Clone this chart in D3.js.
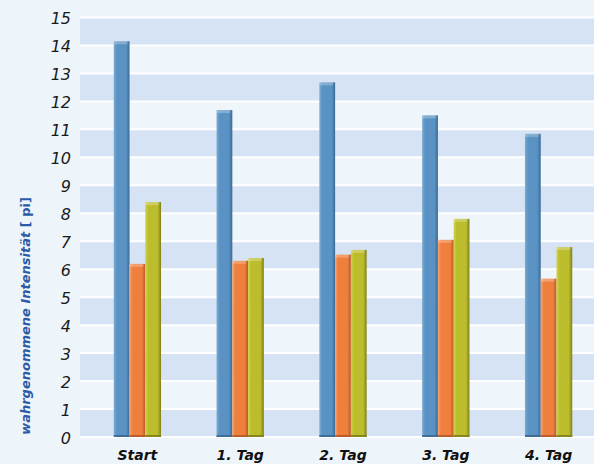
<!DOCTYPE html>
<html>
<head>
<meta charset="utf-8">
<script src="https://cdn.jsdelivr.net/npm/d3@7"></script>
<style>
  html, body { margin: 0; padding: 0; background: #eef5fa; }
  svg { display: block; }
</style>
</head>
<body>
<script>
const WIDTH = 594;
const HEIGHT = 464;

// donnees
const categories = ["Start", "1. Tag", "2. Tag", "3. Tag", "4. Tag"];
const series = ["blau", "orange", "gelb"];
const blau = [14.15, 11.69, 12.68, 11.5, 10.84];
const orange = [6.19, 6.3, 6.52, 7.05, 5.66];
const gelb = [8.4, 6.4, 6.69, 7.8, 6.79];
const yTicks = d3.range(0, 16);

const colors = {
	blau: ["#7aaad3", "#5a93c3", "#3a6a94"],
	orange: ["#f6a170", "#ef7f3d", "#b8582a"],
	gelb: ["#d2d24a", "#bcbd2c", "#7f7f1b"]
};

const svg = d3
	.select("body")
	.append("svg")
	.attr("width", WIDTH)
	.attr("height", HEIGHT);

const plotLeft = 80;
const plotTop = 17.5;
const plotBottom = 437;

const y = d3.scaleLinear().domain([0, 15]).range([plotBottom, plotTop]);
const x0 = d3
	.scaleBand()
	.domain(categories)
	.range([86, 600])
	.paddingInner(0.54)
	.paddingOuter(0.27);
const x1 = d3.scaleBand().domain(series).range([0, x0.bandwidth()]);

// gradients
const defs = svg.append("defs");
series.forEach((s) => {
	const g = defs
		.append("linearGradient")
		.attr("id", "grad-" + s)
		.attr("x1", "0")
		.attr("x2", "1")
		.attr("y1", "0")
		.attr("y2", "0");
	g.append("stop").attr("offset", "0").attr("stop-color", colors[s][0]);
	g.append("stop").attr("offset", "0.2").attr("stop-color", colors[s][1]);
	g.append("stop").attr("offset", "0.78").attr("stop-color", colors[s][1]);
	g.append("stop").attr("offset", "1").attr("stop-color", colors[s][2]);
});

// bandes
svg
	.append("g")
	.selectAll("rect")
	.data(yTicks.slice(0, 15))
	.enter()
	.append("rect")
	.attr("x", plotLeft)
	.attr("y", (d) => y(d + 1))
	.attr("width", WIDTH - plotLeft)
	.attr("height", (d) => y(d) - y(d + 1))
	.attr("fill", (d) => (d % 2 === 0 ? "#d5e3f4" : "#eef5fb"));

// lignes de grille
svg
	.append("g")
	.selectAll("line")
	.data(yTicks)
	.enter()
	.append("line")
	.attr("x1", plotLeft)
	.attr("x2", WIDTH)
	.attr("y1", (d) => y(d))
	.attr("y2", (d) => y(d))
	.attr("stroke", "#ffffff")
	.attr("stroke-width", 2);

// barres
const rows = categories.map((c, i) => ({
	cat: c,
	values: [
		{ key: "blau", value: blau[i] },
		{ key: "orange", value: orange[i] },
		{ key: "gelb", value: gelb[i] }
	]
}));

const groups = svg
	.append("g")
	.selectAll("g")
	.data(rows)
	.enter()
	.append("g")
	.attr("transform", (d) => `translate(${x0(d.cat)},0)`);

const bars = groups
	.selectAll("g")
	.data((d) => d.values)
	.enter()
	.append("g");

bars
	.append("rect")
	.attr("x", (d) => x1(d.key))
	.attr("y", (d) => y(d.value))
	.attr("width", x1.bandwidth())
	.attr("height", (d) => y(0) - y(d.value))
	.attr("fill", (d) => `url(#grad-${d.key})`);

// petit reflet en haut
bars
	.append("rect")
	.attr("x", (d) => x1(d.key))
	.attr("y", (d) => y(d.value))
	.attr("width", x1.bandwidth() - 2)
	.attr("height", 3)
	.attr("fill", "#ffffff")
	.attr("opacity", 0.25);

// ombre du bas
bars
	.append("rect")
	.attr("x", (d) => x1(d.key))
	.attr("y", y(0) - 2)
	.attr("width", x1.bandwidth())
	.attr("height", 2)
	.attr("fill", (d) => colors[d.key][2])
	.attr("opacity", 0.9);

// axe y
const yAxis = svg
	.append("g")
	.attr("transform", `translate(${plotLeft - 9},0)`)
	.call(d3.axisLeft(y).tickValues(yTicks).tickSize(0).tickPadding(0));
yAxis.select(".domain").remove();
yAxis
	.selectAll("text")
	.attr("dy", "0.4em")
	.style("font-family", "'DejaVu Sans', sans-serif")
	.style("font-style", "italic")
	.style("font-size", "16px")
	.attr("fill", "#1a1a1a");

// axe x
const xAxis = svg
	.append("g")
	.attr("transform", `translate(0,${plotBottom})`)
	.call(d3.axisBottom(x0).tickSize(0).tickPadding(0));
xAxis.select(".domain").remove();
xAxis
	.selectAll("text")
	.attr("y", 23)
	.attr("dy", 0)
	.style("font-family", "'DejaVu Sans', sans-serif")
	.style("font-style", "italic")
	.style("font-weight", "bold")
	.style("font-size", "14px")
	.attr("fill", "#111");

// titre de l'axe y
const title = svg
	.append("text")
	.attr("transform", "translate(30,316) rotate(-90)")
	.attr("text-anchor", "middle")
	.style("font-family", "'DejaVu Sans', sans-serif")
	.style("font-weight", "bold")
	.style("font-size", "13px")
	.attr("fill", "#2a5aa8");
title.append("tspan").style("font-style", "italic").text("wahrgenommene Intensität ");
title.append("tspan").text("[ pi]");
</script>
</body>
</html>
